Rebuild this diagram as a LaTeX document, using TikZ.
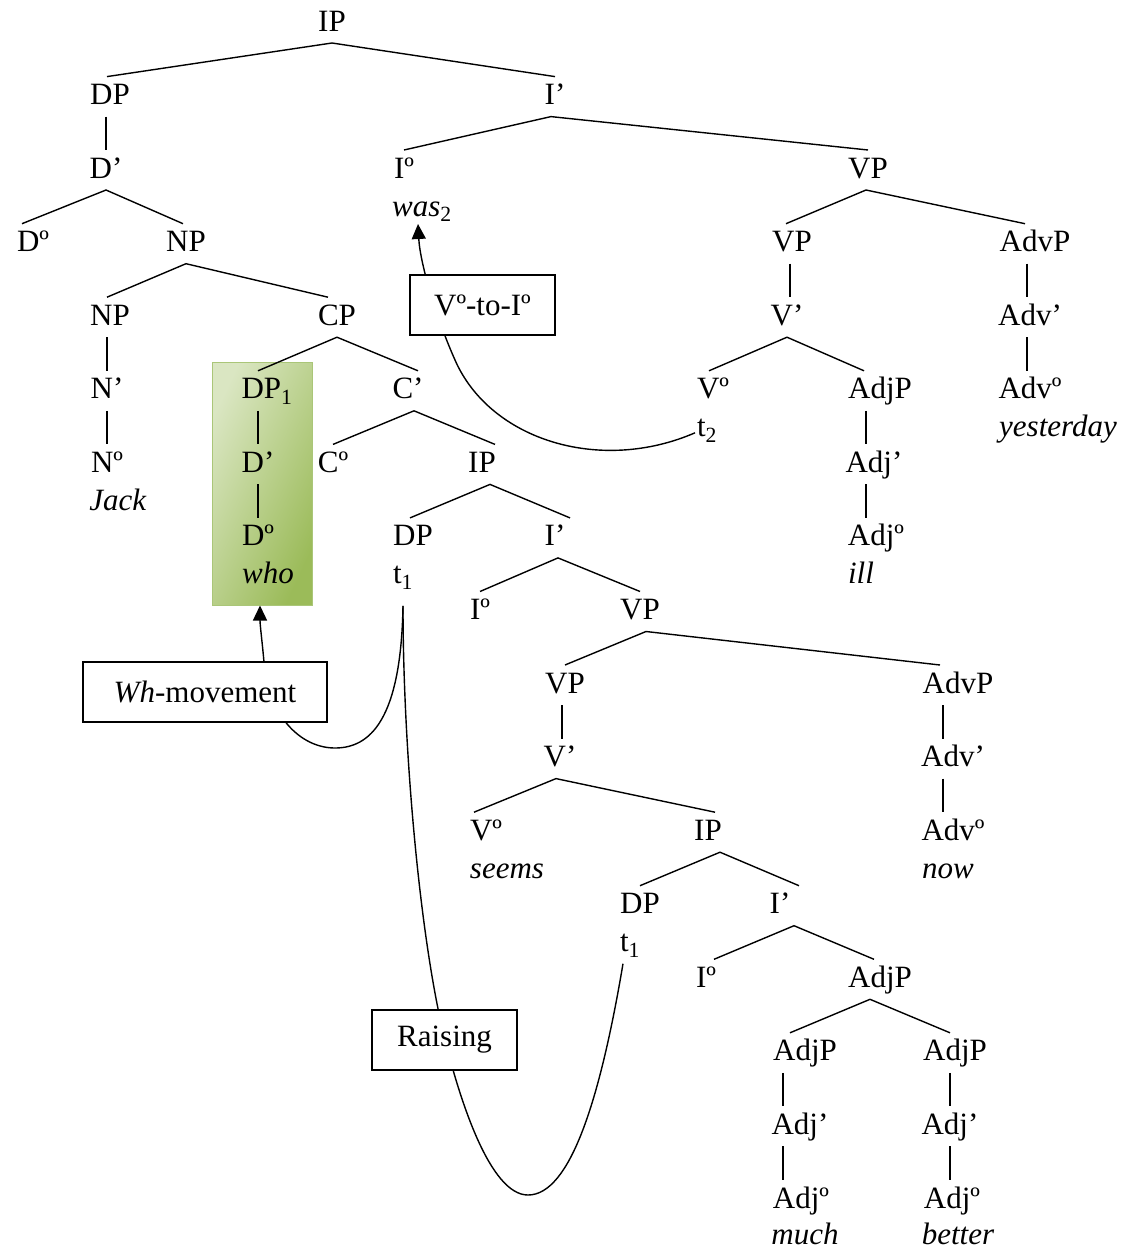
\documentclass[tikz,border=0pt]{standalone}
\usepackage{fontspec}
\setmainfont{Liberation Serif}
\usetikzlibrary{arrows.meta}
\definecolor{whotop}{RGB}{218,230,194}
\definecolor{whobot}{RGB}{155,187,89}
\definecolor{whoedge}{RGB}{170,198,120}

\begin{document}
\begin{tikzpicture}[x=1pt,y=-1pt,
  font=\fontsize{31}{38}\selectfont,
  cat/.style={anchor=base,inner xsep=2pt,inner ysep=6pt,
    text height=22pt,text depth=6pt,outer sep=0pt},
  word/.style={cat,inner ysep=1pt,text depth=0pt},
  branch/.style={line width=1.4pt},
  mvline/.style={line width=1.4pt},
  mbox/.style={draw,fill=white,line width=1.4pt,inner sep=0pt,
    minimum width=145pt,minimum height=60pt},
  hl/.style={draw=whoedge,line width=1pt,left color=whotop,
    right color=whobot,shading angle=65,
    minimum width=100pt,minimum height=243pt}]
\useasboundingbox (0,0) rectangle (1124,1250);

% moved wh-phrase
\node[hl] (hlbox) at (262,483.5) {};

% categories, row by row
\node[cat] (ip0) at (332,31) {IP};
\node[cat] (dp0) at (110,104.6) {DP};
\node[cat] (ib0) at (555,104.6) {I’};
\node[cat] (db0) at (106,178) {D’};
\node[cat] (io0) at (404,178) {Iº};
\node[word] (was) at (422,216) {\textit{was}\textsubscript{2}};
\node[cat] (vp0) at (868,178) {VP};
\node[cat] (do0) at (33,251.7) {Dº};
\node[cat] (np0) at (186,251.7) {NP};
\node[cat] (vp1) at (792,251.7) {VP};
\node[cat] (avp0) at (1035,251.7) {AdvP};
\node[cat] (np1) at (110,325.2) {NP};
\node[cat] (cp0) at (337,325.2) {CP};
\node[cat] (vb0) at (787,325.2) {V’};
\node[cat] (avb0) at (1030,325.2) {Adv’};
\node[cat] (nb0) at (107,398.8) {N’};
\node[cat] (dp1) at (267,398.8) {DP\textsubscript{1}};
\node[cat] (cb0) at (408,398.8) {C’};
\node[cat] (vo0) at (713,398.8) {Vº};
\node[cat] (t2) at (707,436.8) {t\textsubscript{2}};
\node[cat] (ajp0) at (880,398.8) {AdjP};
\node[cat] (avo0) at (1030,398.8) {Advº};
\node[word] (yday) at (1058,436.8) {\textit{yesterday}};
\node[cat] (no0) at (107,472.4) {Nº};
\node[word] (jack) at (118,510.4) {\textit{Jack}};
\node[cat] (db1) at (258,472.4) {D’};
\node[cat] (co0) at (333,472.4) {Cº};
\node[cat] (ip1) at (482,472.4) {IP};
\node[cat] (ajb0) at (874,472.4) {Adj’};
\node[cat] (do1) at (258,545.9) {Dº};
\node[word] (who) at (268,583.9) {\textit{who}};
\node[cat] (dp2) at (413,545.9) {DP};
\node[cat] (t1a) at (403,583.9) {t\textsubscript{1}};
\node[cat] (ib1) at (555,545.9) {I’};
\node[cat] (ajo0) at (876,545.9) {Adjº};
\node[word] (ill) at (861,583.9) {\textit{ill}};
\node[cat] (io1) at (480,619.5) {Iº};
\node[cat] (vp2) at (640,619.5) {VP};
\node[cat] (vp3) at (565,693) {VP};
\node[cat] (avp1) at (958,693) {AdvP};
\node[cat] (vb1) at (560,766.6) {V’};
\node[cat] (avb1) at (953,766.6) {Adv’};
\node[cat] (vo1) at (486,840.2) {Vº};
\node[word] (seems) at (507,878.2) {\textit{seems}};
\node[cat] (ip2) at (708,840.2) {IP};
\node[cat] (avo1) at (953,840.2) {Advº};
\node[word] (now) at (948,878.2) {\textit{now}};
\node[cat] (dp3) at (640,913.7) {DP};
\node[cat] (t1b) at (630,951.7) {t\textsubscript{1}};
\node[cat] (ib2) at (780,913.7) {I’};
\node[cat] (io2) at (706,987.3) {Iº};
\node[cat] (ajp1) at (880,987.3) {AdjP};
\node[cat] (ajp2) at (805,1060.8) {AdjP};
\node[cat] (ajp3) at (955,1060.8) {AdjP};
\node[cat] (ajb1) at (800,1134.4) {Adj’};
\node[cat] (ajb2) at (950,1134.4) {Adj’};
\node[cat] (ajo1) at (801,1208) {Adjº};
\node[word] (much) at (805,1244) {\textit{much}};
\node[cat] (ajo2) at (952,1208) {Adjº};
\node[word] (better) at (958,1244) {\textit{better}};

% branching
\draw[branch] ([xshift=-3pt]dp0.north) -- (ip0.south) -- (ib0.north);
\draw[branch] (io0.north) -- ([xshift=-4pt]ib0.south) -- (vp0.north);
\draw[branch] ([xshift=-11pt]do0.north) -- (db0.south) -- ([xshift=-3pt]np0.north);
\draw[branch] ([xshift=-3pt]np1.north) -- (np0.south) -- ([xshift=-9pt]cp0.north);
\draw[branch] ([xshift=-6pt]vp1.north) -- ([xshift=-2pt]vp0.south) -- ([xshift=-10pt]avp0.north);
\draw[branch] ([xshift=-9pt]dp1.north) -- (cp0.south) -- ([xshift=10pt]cb0.north);
\draw[branch] ([xshift=-4pt]vo0.north) -- (vb0.south) -- ([xshift=-16pt]ajp0.north);
\draw[branch] (co0.north) -- ([xshift=6pt]cb0.south) -- ([xshift=13pt]ip1.north);
\draw[branch] ([xshift=-3pt]dp2.north) -- ([xshift=8pt]ip1.south) -- ([xshift=15pt]ib1.north);
\draw[branch] (io1.north) -- ([xshift=3pt]ib1.south) -- (vp2.north);
\draw[branch] (vp3.north) -- ([xshift=6pt]vp2.south) -- ([xshift=-18pt]avp1.north);
\draw[branch] ([xshift=-12pt]vo1.north) -- ([xshift=-4pt]vb1.south) -- ([xshift=7pt]ip2.north);
\draw[branch] (dp3.north) -- ([xshift=12pt]ip2.south) -- ([xshift=19pt]ib2.north);
\draw[branch] ([xshift=8pt]io2.north) -- ([xshift=14pt]ib2.south) -- ([xshift=-6pt]ajp1.north);
\draw[branch] ([xshift=-15pt]ajp2.north) -- ([xshift=-10pt]ajp1.south) -- ([xshift=-5pt]ajp3.north);

% non-branching
\draw[branch] (db0.north |- dp0.south) -- (db0.north);
\draw[branch] ([xshift=3pt]vb0.north |- vp1.south) -- ([xshift=3pt]vb0.north);
\draw[branch] ([xshift=-3pt]avb0.north |- avp0.south) -- ([xshift=-3pt]avb0.north);
\draw[branch] (nb0.north |- np1.south) -- (nb0.north);
\draw[branch] ([xshift=-3pt]avo0.north |- avb0.south) -- ([xshift=-3pt]avo0.north);
\draw[branch] (no0.north |- nb0.south) -- (no0.north);
\draw[branch] (db1.north |- dp1.south) -- (db1.north);
\draw[branch] ([xshift=-8pt]ajb0.north |- ajp0.south) -- ([xshift=-8pt]ajb0.north);
\draw[branch] (do1.north |- db1.south) -- (do1.north);
\draw[branch] ([xshift=-10pt]ajo0.north |- ajb0.south) -- ([xshift=-10pt]ajo0.north);
\draw[branch] ([xshift=2pt]vb1.north |- vp3.south) -- ([xshift=2pt]vb1.north);
\draw[branch] ([xshift=-10pt]avb1.north |- avp1.south) -- ([xshift=-10pt]avb1.north);
\draw[branch] ([xshift=-10pt]avo1.north |- avb1.south) -- ([xshift=-10pt]avo1.north);
\draw[branch] ([xshift=-17pt]ajb1.north |- ajp2.south) -- ([xshift=-17pt]ajb1.north);
\draw[branch] (ajb2.north |- ajp3.south) -- (ajb2.north);
\draw[branch] ([xshift=-18pt]ajo1.north |- ajb1.south) -- ([xshift=-18pt]ajo1.north);
\draw[branch] ([xshift=-2pt]ajo2.north |- ajb2.south) -- ([xshift=-2pt]ajo2.north);

% movement paths
\draw[mvline,-{Triangle[length=15pt,width=14pt]}] ([yshift=-4pt]t2.west)
  .. controls (600,474) and (490,440) .. (455,360)
  .. controls (435,315) and (420,262) .. ([xshift=-4pt,yshift=-7pt]was.south);
\draw[mvline,-{Triangle[length=15pt,width=14pt]}] ([yshift=-10pt]t1a.south)
  .. controls (401,720) and (370,748) .. (335,748)
  .. controls (300,748) and (268,715) .. (264,662)
  .. controls (262,640) and (260,625) .. ([xshift=-2pt]hlbox.south);
\draw[mvline] ([xshift=-7pt]t1b.south)
  .. controls (600,1100) and (570,1195) .. (528,1195)
  .. controls (490,1195) and (460,1100) .. (445,1040)
  .. controls (420,940) and (403,750) .. ([yshift=-10pt]t1a.south);

% labels of the movements
\node[mbox] (vtoi) at (482.5,305) {Vº-to-Iº};
\node[mbox,minimum width=244pt] (whmv) at (205,692) {\textit{Wh}-movement};
\node[mbox] (rais) at (444.5,1040) {Raising};
\end{tikzpicture}
\end{document}
